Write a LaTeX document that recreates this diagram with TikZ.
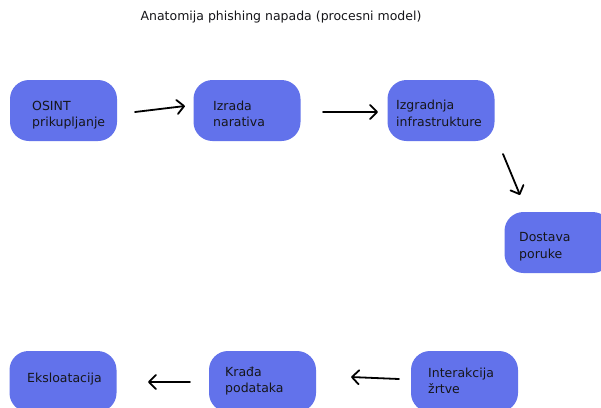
\documentclass[tikz,border=0pt]{standalone}
\usepackage{fontspec}
\setmainfont{DejaVu Sans}
\usetikzlibrary{arrows.meta}
\definecolor{boxblue}{RGB}{98,114,235}
\definecolor{txt}{RGB}{22,22,26}
\begin{document}
\begin{tikzpicture}[x=1pt,y=-1pt,
  stepbox/.style={fill=boxblue,draw=none,rounded corners=19pt,minimum width=107pt,minimum height=61pt,inner sep=0pt},
  lbl/.style={anchor=west,align=left,text=txt,font=\fontsize{12.5}{16.5}\selectfont,inner sep=0pt},
  conn/.style={line width=1.8pt,line cap=round,-{Straight Barb[length=7pt,width=14pt,line width=1.8pt,round]}}]
\useasboundingbox (0,0) rectangle (601,407);
\clip (0,0) rectangle (601,407);
\fill[white] (0,0) rectangle (601,407);
\node[text=txt,font=\fontsize{12.5}{15}\selectfont,inner sep=0pt] (title) at (281,17) {Anatomija phishing napada (procesni model)};
% boxes
\node[stepbox] (osint) at (63.5,110.5) {};
\node[stepbox] (izrada) at (247,110.5) {};
\node[stepbox] (izgr) at (441,110.5) {};
\node[stepbox] (dost) at (558,242.5) {};
\node[stepbox] (eks) at (63,381.5) {};
\node[stepbox] (krada) at (262.5,381.5) {};
\node[stepbox] (inter) at (464.5,381.5) {};
% labels
\node[lbl] (tosint) at (32,115) {OSINT\\prikupljanje};
\node[lbl] (tizrada) at (213,114) {Izrada\\narativa};
\node[lbl] (tizgr) at (396,113.5) {Izgradnja\\infrastrukture};
\node[lbl] (tdost) at (519,246.5) {Dostava\\poruke};
\node[lbl] (teks) at (27,379) {Eksloatacija};
\node[lbl] (tkrada) at (225,381) {Krađa\\podataka};
\node[lbl] (tinter) at (428,381) {Interakcija\\žrtve};
% arrow ends
\coordinate (a1) at (135,112); \coordinate (b1) at (185,106);
\coordinate (a2) at (323,112); \coordinate (b2) at (378,112);
\coordinate (a3) at (503,154); \coordinate (b3) at (520,195);
\coordinate (a4) at (399,379); \coordinate (b4) at (351,377);
\coordinate (a5) at (190,382); \coordinate (b5) at (148,382);
\draw[conn] (a1) -- (b1);
\draw[conn] (a2) -- (b2);
\draw[conn] (a3) -- (b3);
\draw[conn] (a4) -- (b4);
\draw[conn] (a5) -- (b5);
\end{tikzpicture}
\end{document}
